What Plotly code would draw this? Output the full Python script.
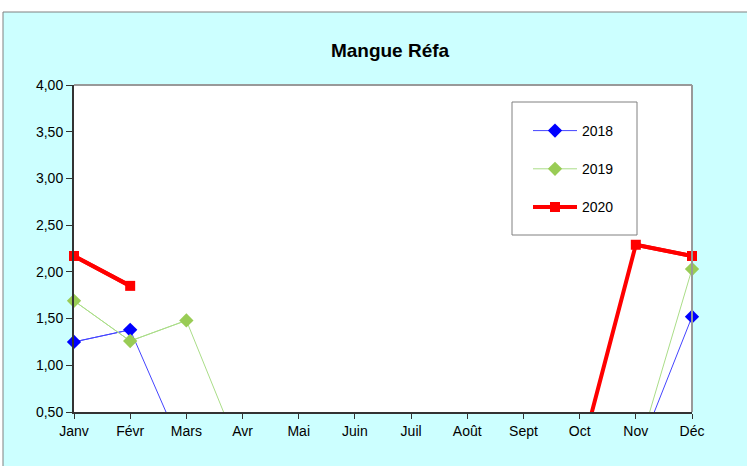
import plotly.graph_objects as go

months = ["Janv", "Févr", "Mars", "Avr", "Mai", "Juin", "Juil", "Août", "Sept", "Oct", "Nov", "Déc"]
v2018 = [1.25, 1.38, 0, 0, 0, 0, 0, 0, 0, 0, 0, 1.52]
v2019 = [1.69, 1.26, 1.48, 0, 0, 0, 0, 0, 0, 0, 0, 2.03]
v2020 = [2.17, 1.85, None, None, None, None, None, None, None, 0, 2.29, 2.17]
y_ticks = [0.5, 1.0, 1.5, 2.0, 2.5, 3.0, 3.5, 4.0]
Y_MIN, Y_MAX = 0.5, 4.0

W, H = 747, 466
L, R, T, B = 74, 692, 85, 412
pw, ph = R - L, B - T

def px_x(x):
    return (x - L) / pw

def px_y(y):
    return (B - y) / ph

fig = go.Figure()

series = [
    ("2018", v2018, "#0000FF", "#4444FF", 1, "diamond", 11),
    ("2019", v2019, "#99CC55", "#AADD88", 1, "diamond", 11),
    ("2020", v2020, "#FF0000", "#FF0000", 4, "square", 10),
]
for name, vals, mcol, lcol, lw, sym, ms in series:
    fig.add_trace(go.Scatter(
        x=months, y=vals, mode="lines", showlegend=False,
        line=dict(color=lcol, width=lw), connectgaps=False,
        cliponaxis=True, hoverinfo="skip", legendgroup=name,
    ))
    visible = [v if (v is not None and v >= Y_MIN) else None for v in vals]
    fig.add_trace(go.Scatter(
        x=months, y=visible, name=name, mode="lines+markers",
        line=dict(color=lcol, width=lw),
        marker=dict(color=mcol, symbol=sym, size=ms, line=dict(width=0)),
        cliponaxis=False, connectgaps=False, legendgroup=name,
    ))

shapes = [
    dict(type="rect", xref="paper", yref="paper",
         x0=px_x(3), x1=px_x(760), y0=px_y(480), y1=px_y(12),
         fillcolor="#CCFFFF", line=dict(color="#808080", width=1), layer="below"),
    dict(type="rect", xref="paper", yref="paper", x0=0, x1=1, y0=0, y1=1,
         fillcolor="white", line=dict(width=0), layer="below"),
    dict(type="line", xref="paper", yref="paper", x0=0, x1=1, y0=1, y1=1,
         line=dict(color="#999999", width=2)),
    dict(type="line", xref="paper", yref="paper", x0=1, x1=1, y0=0, y1=1,
         line=dict(color="#999999", width=2)),
    dict(type="rect", xref="paper", yref="paper",
         x0=px_x(512), x1=px_x(637), y0=px_y(235), y1=px_y(102),
         fillcolor="white", line=dict(color="#808080", width=1), layer="above"),
]

fig.update_layout(
    width=W, height=H,
    margin=dict(l=L, r=W - R, t=T, b=H - B, pad=0),
    paper_bgcolor="white", plot_bgcolor="white",
    separators=", ",
    font=dict(family="Liberation Sans, Arial, sans-serif", size=14, color="black"),
    title=dict(text="<b>Mangue Réfa</b>", x=390 / W, xanchor="center",
               y=1 - 50 / H, yanchor="middle",
               font=dict(size=19, color="black")),
    shapes=shapes,
    showlegend=True,
    legend=dict(x=px_x(528), y=px_y(115), xanchor="left", yanchor="top",
                bgcolor="rgba(0,0,0,0)", borderwidth=0,
                font=dict(size=14, color="black"), itemwidth=44,
                traceorder="grouped", tracegroupgap=17),
    xaxis=dict(type="category", range=[0, 11], showgrid=False, zeroline=False,
               showline=True, linecolor="#333333", linewidth=2,
               ticks="outside", ticklen=5, tickcolor="#333333",
               tickfont=dict(size=14)),
    yaxis=dict(range=[Y_MIN, Y_MAX], tickvals=y_ticks, tickformat=".2f",
               showgrid=False, zeroline=False,
               showline=True, linecolor="#333333", linewidth=2,
               ticks="outside", ticklen=6, tickcolor="#333333",
               tickfont=dict(size=14)),
)

fig.write_html("out.html", config={"displayModeBar": False},
               post_script="document.body.style.margin='0';")
